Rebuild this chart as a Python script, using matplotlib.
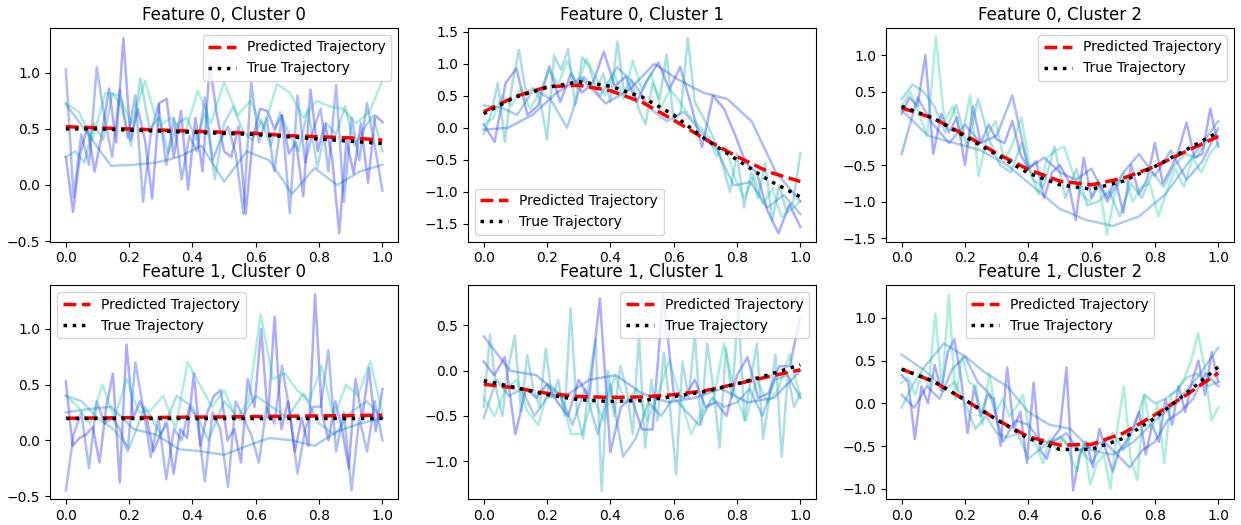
import numpy as np
import matplotlib
matplotlib.use('Agg')
import matplotlib.pyplot as plt

# rejilla de la trayectoria media (11 puntos)
t_grid = [0.0, 0.1, 0.2, 0.3, 0.4, 0.5, 0.6, 0.7, 0.8, 0.9, 1.0]

# feature 0
pred_f0 = [
    [0.52, 0.51, 0.50, 0.49, 0.48, 0.47, 0.46, 0.44, 0.43, 0.42, 0.40],
    [0.25, 0.49, 0.64, 0.665, 0.58, 0.40, 0.12, -0.18, -0.45, -0.69, -0.84],
    [0.28, 0.14, -0.09, -0.34, -0.56, -0.72, -0.77, -0.68, -0.52, -0.31, -0.11],
]
true_f0 = [
    [0.50, 0.50, 0.49, 0.48, 0.47, 0.46, 0.45, 0.43, 0.41, 0.39, 0.37],
    [0.22, 0.48, 0.63, 0.72, 0.65, 0.48, 0.20, -0.18, -0.50, -0.82, -1.08],
    [0.30, 0.14, -0.11, -0.36, -0.61, -0.77, -0.83, -0.72, -0.52, -0.29, -0.05],
]
# feature 1
pred_f1 = [
    [0.198, 0.20, 0.203, 0.205, 0.208, 0.21, 0.213, 0.216, 0.219, 0.222, 0.225],
    [-0.15, -0.19, -0.25, -0.285, -0.295, -0.29, -0.265, -0.22, -0.145, -0.065, 0.01],
    [0.40, 0.256, 0.04, -0.19, -0.39, -0.49, -0.48, -0.35, -0.135, 0.10, 0.355],
]
true_f1 = [
    [0.20, 0.20, 0.20, 0.20, 0.20, 0.20, 0.20, 0.20, 0.20, 0.20, 0.20],
    [-0.11, -0.185, -0.265, -0.32, -0.34, -0.33, -0.285, -0.23, -0.145, -0.045, 0.065],
    [0.40, 0.26, 0.04, -0.19, -0.41, -0.54, -0.54, -0.41, -0.17, 0.12, 0.425],
]

# trayectorias observadas (ruidosas), una lista por panel
obs_f0c0 = [
    [0.25, -0.24, 0.28, 0.52, 0.12, 0.45, 0.86, 0.38, 1.31, 0.40, 0.68, 0.40, -0.12, 0.73, 0.77, 0.25,
     0.66, -0.04, 0.60, 0.12, 1.08, 0.62, 0.30, 0.25, 0.52, -0.26, 0.42, 0.68, 0.66, 0.50, 0.62, 0.28,
     0.38, -0.10, 0.85, 0.30, 0.55, 0.25, -0.43, 0.40, 0.10, 0.55, 0.02, 0.62, 0.56],
    [1.03, -0.11, 0.45, 0.18, 1.05, 0.60, 0.25, 0.85, 0.42, 0.80, -0.15, 0.46, 0.72, 0.18, 0.60, 0.05,
     0.44, 0.30, 0.78, 0.22, 0.40, 0.52, 0.28, -0.26, 0.92, 0.38, 0.60, 0.12, 0.62, -0.25, 0.80, 0.20,
     0.48, 0.68, 0.12, 0.89, -0.15, 0.60, 0.22, 0.73, 0.35, -0.05],
    [0.72, 0.45, 0.17, 0.18, 0.20, 0.25, 0.35, 0.03, 0.30, 0.22, -0.08, 0.15, 0.00, 0.12, 0.18],
    [0.25, 0.30, 0.20, 0.55, 0.40, 0.82, 0.70, 0.35, 0.95, 0.50, 0.60, 0.28, 0.55, 0.60, 0.40, 0.65,
     0.05, 0.55, 0.70, 0.48, 0.40, 0.58, 0.35, 0.65, 0.45, 0.30, 0.68, 0.15, 0.55, 0.45, 0.70, 0.35,
     0.50, 0.62, 0.30],
    [0.73, 0.65, 0.40, 0.82, 0.80, 0.55, 0.93, 0.52, 0.60, 0.45, 0.84, 0.55, 0.92, 0.62, 0.75, 0.50,
     0.90, 0.82, 0.60, 0.75, 0.70, 0.68, 0.55, 0.65, 0.93],
]
obs_f0c1 = [
    [0.05, -0.22, 0.70, 0.93, 0.20, 0.35, 0.96, 0.40, 0.85, 0.55, 0.70, 1.19, 0.65, 0.80, 0.40, 0.75,
     1.02, 0.60, 0.95, 0.35, -0.30, 0.50, 0.30, -0.10, -0.55, -0.70, -1.30, -1.65, -1.20, -1.55],
    [-0.03, 0.00, 0.20, 0.55, 0.78, 0.38, 0.60, 1.00, 0.75, 0.55, 0.45, 0.10, -0.70, -1.15],
    [0.35, 0.32, 0.20, 0.60, 0.45, 0.00, 0.80, 0.50, 0.95, 0.70, 0.30, 0.10, 0.25, -0.05, -0.35, -0.90,
     -0.85, -1.25, -1.05, -1.35],
    [-0.10, 0.20, 0.70, -0.22, 0.65, 1.22, 0.55, 0.62, 0.45, -0.18, 1.13, 0.90, 1.23, 0.35, 1.10, 0.95,
     0.60, 0.85, 0.40, 1.35, 0.50, 0.75, 0.30, 0.05, 0.70, 0.45, 1.15, 0.10, 0.25, 1.40, 0.40, 0.20,
     0.00, -0.25, -0.60, -1.00, -0.40, -1.25, -0.70, -1.10, -0.55, -1.45, -0.90, -1.30, -1.15, -0.40],
    [0.05, 0.15, 0.50, 0.35, 0.62, 0.30, 0.55, 0.90, 0.68, 1.05, 0.62, 1.08, 0.80, 0.50, 0.85, 0.45,
     1.05, 0.60, 0.85, 0.30, 0.60, 0.42, 0.20, 0.05, -0.10, -0.45, -0.30, -0.80, -1.10, -0.75, -1.20,
     -0.95, -1.40, -1.28, -1.15],
]
obs_f0c2 = [
    [0.20, 0.42, 0.30, 1.00, -0.35, 0.20, -0.05, 0.15, -0.50, 0.30, -0.20, 0.05, -0.15, -0.20, 0.10,
     -0.35, -0.55, -0.45, -0.95, -0.60, -0.50, -0.70, -1.25, -0.40, -0.95, -0.75, -0.95, -0.70, -1.15,
     -0.50, -0.90, -0.70, -0.20, -0.75, -0.55, -0.30, 0.08, -0.40, -0.35, 0.27, -0.25],
    [-0.35, 0.42, 0.05, -0.20, 0.05, -0.20, -0.10, 0.45, -0.55, -0.40, -0.60, -0.70, -0.55, -1.00,
     -0.60, -0.35, -0.65, -0.30, -0.70, -0.45, 0.00],
    [0.25, -0.10, -0.20, -0.30, -0.50, -0.80, -1.10, -1.25, -1.33, -1.20, -0.90, -0.40, 0.10],
    [0.40, 0.60, 0.50, 0.30, -0.05, 0.32, -0.25, 0.40, -0.15, -0.50, -0.60, -0.20, -0.70, -0.80, -0.25,
     -0.95, -0.55, -1.05, -1.00, -0.85, -1.20, -0.75, -0.95, -0.60, -0.80, -0.50, -0.35, -0.40, -0.15,
     -0.10],
    [0.30, 0.50, 0.20, -0.10, 1.25, 0.10, 0.30, -0.15, 0.45, -0.65, -0.10, 0.10, -0.45, -0.20, 0.15,
     -0.55, -0.90, -0.40, -0.30, -0.25, -0.60, -0.90, -1.00, -0.70, -1.45, -0.85, -0.60, -1.00, -0.80,
     -0.75, -1.20, -0.85, -0.55, -0.80, -0.40, -0.60, -0.35, -0.20],
]
obs_f1c0 = [
    [0.53, -0.05, 0.02, 0.05, 0.12, -0.20, 0.30, 0.60, -0.38, 0.86, 0.20, 0.35, 0.20, -0.10, 0.05, 0.15,
     -0.30, 0.10, 0.02, 0.60, -0.05, 0.25, 0.40, 0.45, 0.00, 0.10, -0.20, 0.55, 0.30, 1.00, 0.20, 1.11,
     0.10, 0.35, -0.10, 0.20, -0.05, 1.31, 0.25, 0.00, 0.35, 0.10, -0.25, 0.55, 0.20, 0.65, 0.08, 0.46],
    [-0.45, 0.05, 0.25, -0.25, 0.35, 0.15, 0.20, 0.10, -0.10, 0.70, 0.30, -0.15, 0.20, -0.35, 0.10,
     0.00, 0.30, 0.20, -0.37, 0.25, 0.10, -0.42, 0.35, 0.20, 0.05, -0.20, 0.30, 0.15, 0.67, 0.25, -0.30,
     0.10, 0.30, 0.30, 0.81, -0.10, 0.25, -0.45, 0.20, -0.10, 0.35, 0.00],
    [0.25, 0.28, 0.30, 0.10, 0.05, -0.08, -0.10, -0.13, -0.05, 0.02, 0.00, -0.05, 0.08, 0.15, 0.20],
    [0.40, 0.35, 0.20, 0.10, -0.07, 0.30, 0.05, 0.40, 0.30, 0.00, 0.35, 0.18, 0.40, 0.30, 0.20, 0.42,
     0.15, 0.05, 0.25, 0.35, 0.20],
    [0.40, 0.30, 0.15, 0.50, 0.20, 0.55, 0.25, 0.27, 0.40, 0.10, 0.70, 0.50, 0.30, 0.45, 0.20, 0.35,
     1.13, 0.55, 0.60, 0.45, 0.35, 0.67, 0.20, 0.50, 0.40, 0.71, 0.25],
]
obs_f1c1 = [
    [0.10, -0.05, 0.15, -0.70, -0.20, -0.30, -0.15, -0.35, -0.50, -0.10, -0.30, 0.80, -0.90, -0.40,
     -0.30, -0.65, -0.65, 0.85, -0.25, -0.30, -0.10, -0.40, -0.35, -0.50, -0.05, 0.15, -0.30, -0.25,
     0.05, 0.05, 0.60],
    [0.38, 0.00, -0.05, -0.30, -0.10, -0.05, -0.25, -0.35, -0.30, -0.20, -0.35, -0.30, 0.00],
    [-0.52, -0.10, -0.28, -0.20, -0.50, -0.30, -0.25, -0.60, -0.20, -0.70, -0.15, -0.95, -0.75, -0.35,
     -0.50, -0.30, -0.45, -0.60, -0.30, -0.40, -0.35, -0.20, -0.50, -0.10, -0.05, -0.30],
    [-0.40, 0.40, -0.20, -0.50, 0.05, 0.39, -0.45, 0.17, -0.20, -0.40, 0.24, -0.30, -0.10, -0.50, 0.69,
     -0.45, -0.75, -0.10, 0.35, -1.33, 0.00, -0.50, 0.05, -0.20, -0.70, 0.40, -0.85, -0.10, -0.55, 0.20,
     -0.40, -1.15, 0.10, -0.30, 0.40, -0.60, 0.30, -0.20, -0.85, 0.25, -0.30, 0.69, -0.55, -0.10, 0.30,
     -0.75, -0.30, 0.18, -0.95, -0.05, -0.40, -0.25],
    [-0.30, -0.50, -0.20, -0.10, -0.45, -0.60, -0.15, -0.25, -0.70, -0.70, -0.30, -0.55, -0.05, -0.35,
     -0.20, -0.55, -0.25, 0.12, -0.30, -0.70, -0.45, -0.35, 0.30, -0.25, -0.55, -0.10, -0.35, -0.20,
     0.18, -0.30],
]
obs_f1c2 = [
    [0.33, 0.25, -0.42, 0.20, 0.00, 0.45, 0.15, 0.60, 0.75, 0.30, -0.35, 0.20, -0.15, 0.10, 0.05, -0.50,
     0.42, -0.30, -0.10, -0.70, 0.24, -0.55, -0.65, -0.40, -0.30, 0.42, -1.02, -0.60, -0.45, -0.75,
     -0.30, -0.55, -0.80, -0.55, -0.45, -0.30, -0.10, -0.60, -0.25, -0.45, 0.05, -0.25, 0.20, -0.10,
     0.25, 0.50, 0.10, 0.60, 0.25],
    [0.10, -0.05, 0.20, 0.05, 0.40, 0.55, 0.25, 0.10, -0.45, -0.20, -0.25, -0.45, -0.45, -0.35, -0.55,
     -0.50, -0.45, -0.60, -0.75, -0.55, -0.45, -0.20, -0.10, 0.05, 0.35, 0.20],
    [0.57, 0.40, 0.70, 0.55, 0.35, 0.20, -0.10, -0.25, -0.30, -0.55, -0.60, -0.45, -0.20, 0.00, 0.30,
     0.65],
    [-0.05, 0.20, 0.40, 0.30, 0.15, 0.25, 0.00, -0.30, -0.15, -0.35, -0.40, -0.35, -0.65, -0.55, -0.45,
     -0.40, -0.50, -0.55, -0.70, -0.50, -0.35, -0.55, -0.30, 0.10, 0.00, 0.05, 0.15, 0.30, 0.35, 0.20,
     0.25],
    [0.24, 0.30, 0.10, 0.35, 0.20, 1.05, 0.15, 1.27, 0.05, 0.55, 0.25, 0.20, -0.25, 0.35, -0.10, 0.05,
     -0.15, -0.05, 0.10, -0.35, -0.50, -0.70, -0.40, -0.55, -0.40, -0.60, -0.80, -0.45, -0.95, -0.70,
     -0.60, -1.00, -0.30, 0.20, -0.65, -0.90, 0.10, -0.30, 0.00, -0.70, 0.10, 0.15, 0.30, 0.50, 0.82,
     0.40, -0.20, -0.05],
]

obs = [[obs_f0c0, obs_f0c1, obs_f0c2], [obs_f1c0, obs_f1c1, obs_f1c2]]
preds = [pred_f0, pred_f1]
trues = [true_f0, true_f1]

ylims = [[(-0.505, 1.40), (-1.78, 1.56), (-1.545, 1.37)],
         [(-0.527, 1.39), (-1.418, 0.943), (-1.12, 1.38)]]
legend_locs = [['upper right', 'lower left', 'upper right'],
               ['upper left', 'upper right', 'upper center']]

fig, axes = plt.subplots(2, 3, figsize=(12.41, 5.25), dpi=100)
fig.subplots_adjust(left=0.0403, right=0.9944, bottom=0.0495, top=0.9467,
                    wspace=0.2, hspace=0.205)

for f in range(2):
    for c in range(3):
        ax = axes[f, c]
        lines = obs[f][c]
        for i, y in enumerate(lines):
            x = np.linspace(0, 1, len(y))
            # colores del mapa winter, sin llegar al verde puro
            ax.plot(x, y, color=plt.cm.winter(0.8 * i / (len(lines) - 1)), alpha=0.32, lw=1.8)
        ax.plot(t_grid, preds[f][c], 'r--', lw=2.5, label='Predicted Trajectory')
        ax.plot(t_grid, trues[f][c], 'k:', lw=2.5, label='True Trajectory')
        ax.set_title(f'Feature {f}, Cluster {c}')
        ax.set_xlim(-0.05, 1.05)
        ax.set_ylim(*ylims[f][c])
        ax.legend(loc=legend_locs[f][c])

fig.savefig('out.png')
